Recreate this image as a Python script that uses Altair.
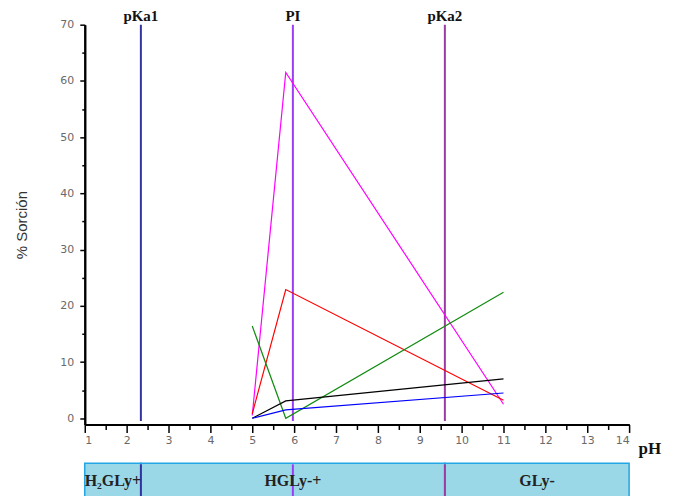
import altair as alt
import pandas as pd

# ---- data ----
ph = [5.0, 5.8, 11.0]
series_names = ["magenta", "red", "green", "black", "blue"]
magenta = [0.5, 61.5, 2.5]
red = [0.8, 22.9, 3.2]
green = [16.4, 0.0, 22.4]
black = [0.0, 3.1, 7.0]
blue = [0.0, 1.5, 4.5]
series_colors = ["#ff00ff", "#ff0000", "#128c12", "#000000", "#0000ff"]

marker_names = ["pKa1", "PI", "pKa2"]
marker_ph = [2.34, 5.97, 9.6]
marker_colors = ["#33339f", "#9d3cf5", "#9b3aa3"]

species = ["H\u2082GLy+", "HGLy-+", "GLy-"]
species_start = [1.0, 2.34, 9.6]
species_end = [2.34, 9.6, 14.0]

x_major = list(range(1, 15))
x_minor = [1.5 + i for i in range(13)]
y_major = list(range(0, 71, 10))
y_minor = list(range(5, 70, 10))

W, H = 546, 401

rows = []
for name, vals in zip(series_names, [magenta, red, green, black, blue]):
    for p, v in zip(ph, vals):
        rows.append({"series": name, "pH": p, "sorc": v})
df = pd.DataFrame(rows)

mk = pd.DataFrame({"name": marker_names, "pH": marker_ph, "color": marker_colors,
                   "y0": [-0.5] * 3, "y1": [70] * 3})
sp = pd.DataFrame({"name": species, "start": species_start, "end": species_end,
                   "mid": [(a + b) / 2 for a, b in zip(species_start, species_end)]})

xscale = alt.Scale(domain=[1, 14], nice=False, zero=False)
yscale = alt.Scale(domain=[-1.1, 70], nice=False, zero=False)

label_font = "DejaVu Sans"
serif = "Liberation Serif"

x_axis_major = alt.Axis(values=x_major, orient="bottom", tickSize=8, tickColor="#000",
                        tickWidth=1.5, domain=True, domainColor="#000", domainWidth=2,
                        labelColor="#6a6a6a",
                        labelFont=label_font, labelFontSize=11, labelPadding=2, grid=False,
                        title="pH", titleFont=serif, titleFontSize=17, titleFontWeight="bold",
                        titleColor="#111", titleX=W + 9, titleY=29, titleAlign="left",
                        titleAngle=0, titleBaseline="alphabetic")
y_axis_major = alt.Axis(values=y_major, orient="left", tickSize=5, tickColor="#000",
                        tickWidth=1.5, domain=True, domainColor="#000", domainWidth=2,
                        labelColor="#6a6a6a",
                        labelFont=label_font, labelFontSize=11, labelPadding=6, grid=False,
                        title="% Sorción", titleFont="Liberation Sans", titleFontSize=15,
                        titleFontWeight="normal", titleColor="#333", titlePadding=30)

lines = alt.Chart(df).mark_line(strokeWidth=1.2).encode(
    x=alt.X("pH:Q", scale=xscale, axis=x_axis_major),
    y=alt.Y("sorc:Q", scale=yscale, axis=y_axis_major),
    color=alt.Color("series:N", scale=alt.Scale(domain=series_names, range=series_colors), legend=None),
    detail="series:N",
)

minor = alt.Chart(pd.DataFrame({"pH": [1.0], "sorc": [0.0]})).mark_point(opacity=0).encode(
    x=alt.X("pH:Q", scale=xscale,
            axis=alt.Axis(values=x_minor, orient="bottom", tickSize=5, tickColor="#000",
                          tickWidth=1.5, labels=False, domain=True, domainColor="#000",
                          domainWidth=2, grid=False, title=None)),
    y=alt.Y("sorc:Q", scale=yscale,
            axis=alt.Axis(values=y_minor, orient="left", tickSize=3, tickColor="#000",
                          tickWidth=1.5, labels=False, domain=True, domainColor="#000",
                          domainWidth=2, grid=False, title=None)),
)

vlines = alt.Chart(mk).mark_rule(strokeWidth=2).encode(
    x=alt.X("pH:Q", scale=xscale, axis=None),
    y=alt.Y("y0:Q", scale=yscale, axis=None),
    y2="y1:Q",
    color=alt.Color("color:N", scale=None),
)

vlabels = alt.Chart(mk).mark_text(font=serif, fontSize=15, fontWeight="bold", baseline="bottom",
                                  dy=-1, color="#111").encode(
    x=alt.X("pH:Q", scale=xscale, axis=None),
    y=alt.Y("y1:Q", scale=yscale, axis=None),
    text="name:N",
)

band = alt.Chart(sp).mark_rect(fill="#9ad8e8", stroke="#22a6e6", strokeWidth=1.5).encode(
    x=alt.X("start:Q", scale=xscale, axis=None),
    x2="end:Q",
    y=alt.value(H + 39),
    y2=alt.value(H + 80),
)

band_div = alt.Chart(mk).mark_rule(strokeWidth=2).encode(
    x=alt.X("pH:Q", scale=xscale, axis=None),
    y=alt.value(H + 40),
    y2=alt.value(H + 80),
    color=alt.Color("color:N", scale=None),
)

band_text = alt.Chart(sp).mark_text(font=serif, fontSize=16, fontWeight="bold", color="#222",
                                    baseline="middle").encode(
    x=alt.X("mid:Q", scale=xscale, axis=None),
    y=alt.value(H + 57),
    text="name:N",
)

chart = alt.layer(band, band_div, band_text, vlines, vlabels, lines, minor).resolve_axis(
    x="independent", y="independent"
).properties(
    width=W, height=H,
    autosize=alt.AutoSizeParams(type="none"),
    padding={"left": 77, "top": 16, "right": 36, "bottom": 71},
).configure_view(stroke=None)

chart.save("out.html", embed_options={"renderer": "svg", "actions": False})
